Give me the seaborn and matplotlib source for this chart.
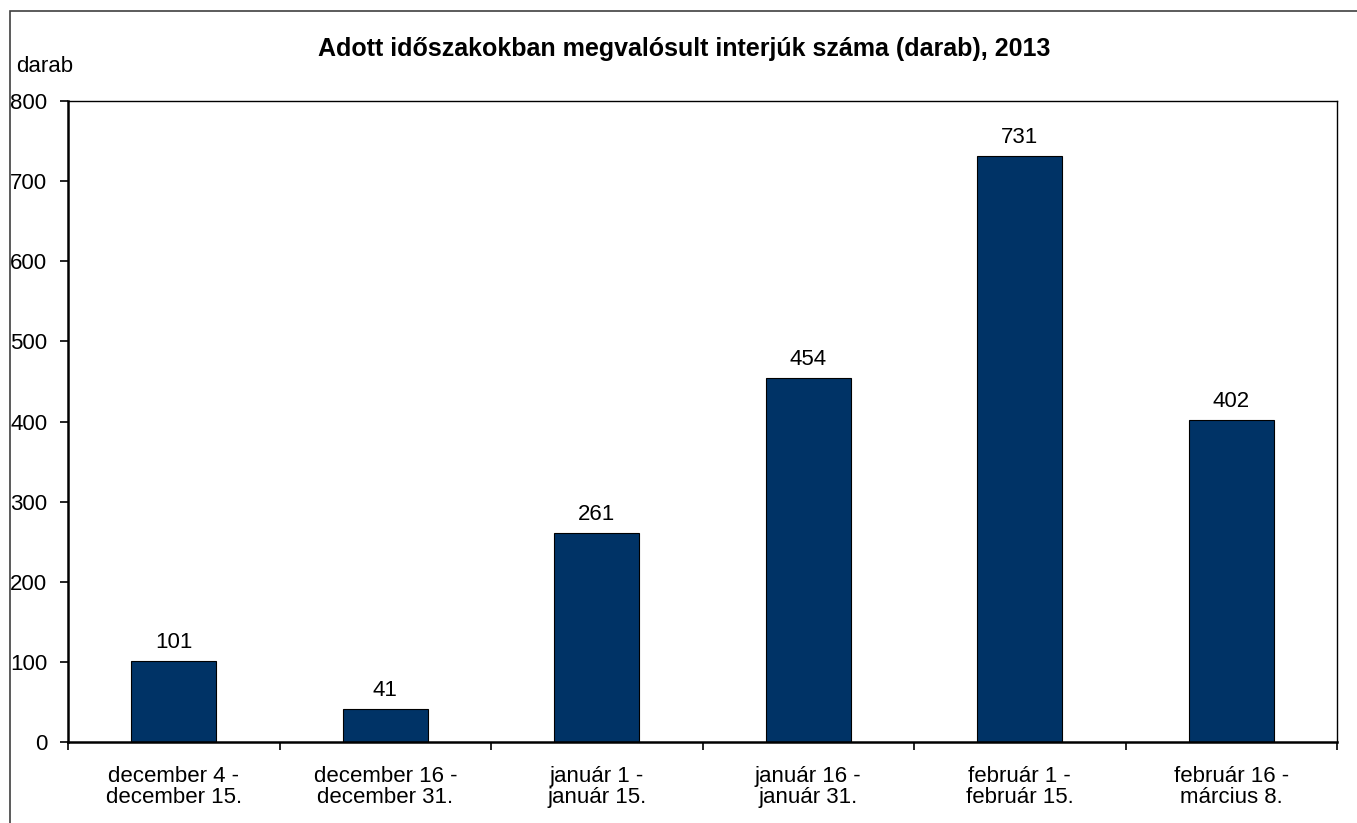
import matplotlib
matplotlib.use("Agg")
import matplotlib.pyplot as plt
import seaborn as sns
import pandas as pd
from matplotlib.patches import Rectangle

categories = ["december 4 -\ndecember 15.", "december 16 -\ndecember 31.",
              "január 1 -\njanuár 15.", "január 16 -\njanuár 31.",
              "február 1 -\nfebruár 15.", "február 16 -\nmárcius 8."]
values = [101, 41, 261, 454, 731, 402]
yticks = [0, 100, 200, 300, 400, 500, 600, 700, 800]
title = "Adott időszakokban megvalósult interjúk száma (darab), 2013"
unit = "darab"

sns.set_theme(style="white")
plt.rcParams['font.family'] = ['Liberation Sans', 'DejaVu Sans']

df = pd.DataFrame({"cat": categories, "val": values})

fig = plt.figure(figsize=(13.57, 8.23), dpi=100)
ax = fig.add_axes([68/1357, 1-742/823, (1337-68)/1357, (742-101)/823])

sns.barplot(data=df, x="cat", y="val", order=categories, color="#003366",
            saturation=1, width=0.4, edgecolor="black", linewidth=0.8, ax=ax)

ax.set_xlim(-0.5, len(categories) - 0.5)
ax.set_ylim(0, 800)
ax.set_yticks(yticks)
ax.set_yticklabels([str(t) for t in yticks], fontsize=16, color="black")
ax.set_xticks(range(len(categories)))
ax.set_xticklabels(categories, fontsize=16, color="black", linespacing=1.0)
ax.set_xticks([i - 0.5 for i in range(len(categories) + 1)], minor=True)
ax.tick_params(axis="x", which="major", length=0, pad=17)
ax.tick_params(axis="x", which="minor", length=6, width=1.2, color="black", direction="out", bottom=True)
ax.tick_params(axis="y", which="major", length=6, width=1.2, color="black", direction="out", left=True, pad=9)
ax.set_xlabel("")
ax.set_ylabel("")

for s in ["left", "bottom"]:
    ax.spines[s].set_linewidth(1.8)
    ax.spines[s].set_color("black")
for s in ["top", "right"]:
    ax.spines[s].set_linewidth(1.0)
    ax.spines[s].set_color("black")

for i, v in enumerate(values):
    ax.annotate(str(v), (i, v), xytext=(0, 6), textcoords="offset points",
                ha="center", va="bottom", fontsize=16, color="black")

fig.text(0.5 + 0.004, 1 - 49/823, title, ha="center", va="center",
         fontsize=18, fontweight="bold", color="black")
fig.text(16/1357, 1 - 67/823, unit, ha="left", va="center", fontsize=16, color="black")

fig.patches.append(Rectangle((10/1357, -0.01), 1.0, 1 - 11/823 + 0.01,
                             transform=fig.transFigure, fill=False,
                             edgecolor="#404040", linewidth=1.2))

fig.savefig("out.png", dpi=100)
